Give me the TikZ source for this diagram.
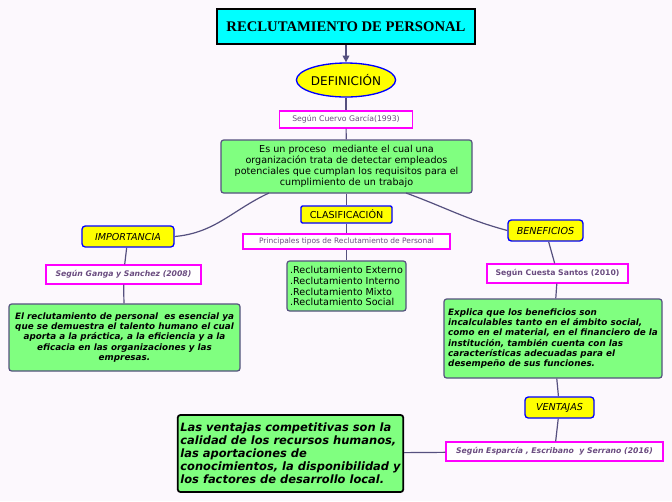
\documentclass[tikz,border=0pt]{standalone}
\usepackage{fontspec}
\setmainfont{DejaVu Sans}
\newfontfamily\titlefont{Liberation Serif}
\usetikzlibrary{shapes.geometric,arrows.meta}
\definecolor{bg}{HTML}{FCF8FD}
\definecolor{ln}{HTML}{55507F}
\definecolor{gr}{HTML}{80FF80}
\definecolor{yl}{HTML}{FFFF00}
\definecolor{mg}{HTML}{FF00FF}
\definecolor{cy}{HTML}{00FFFF}
\definecolor{pt}{HTML}{6A4C80}
\tikzset{
 greenbox/.style={draw=ln,fill=gr,rounded corners=2pt,line width=0.9pt,align=center,inner sep=2pt,font=\fontsize{7.2}{8.2}\selectfont},
 yellowbox/.style={draw=blue,fill=yl,rounded corners=2.5pt,line width=1pt,inner sep=0pt,font=\fontsize{7.2}{8.2}\selectfont},
 refbox/.style={draw=mg,fill=white,line width=1pt,inner sep=0pt,text=pt,font=\fontsize{5.8}{7}\selectfont},
 conn/.style={draw=ln,line width=0.9pt},
}
\begin{document}
\begin{tikzpicture}[x=0.75pt,y=-0.75pt]
\fill[bg] (0,0) rectangle (672,501);
\useasboundingbox (0,0) rectangle (672,501);
\node[draw=black,fill=cy,line width=1.6pt,minimum width=258*0.75pt,minimum height=35*0.75pt,font=\titlefont\bfseries\fontsize{11}{12}\selectfont] (title) at (346,26.5) {RECLUTAMIENTO DE PERSONAL};
\node[ellipse,draw=blue,fill=yl,line width=1pt,minimum width=98*0.75pt,minimum height=34*0.75pt,inner sep=0pt,font=\fontsize{9}{10}\selectfont] (def) at (346,80) {DEFINICIÓN};
\node[refbox,minimum width=133*0.75pt,minimum height=17*0.75pt] (cuervo) at (346,119.5) {Según Cuervo García(1993)};
\node[greenbox,minimum width=251*0.75pt,minimum height=53*0.75pt] (defbox) at (346.5,166.5) {Es un proceso\ \ mediante el cual una\\organización trata de detectar empleados\\potenciales que cumplan los requisitos para el\\cumplimiento de un trabajo};
\node[yellowbox,rounded corners=1pt,minimum width=91*0.75pt,minimum height=17*0.75pt] (clas) at (346.5,214.5) {CLASIFICACIÓN};
\node[refbox,minimum width=207*0.75pt,minimum height=15*0.75pt,font=\fontsize{5.6}{7}\selectfont] (tipos) at (346.5,241.5) {Principales tipos de Reclutamiento de Personal};
\node[greenbox,align=left,minimum width=119*0.75pt,minimum height=50*0.75pt] (lista) at (346.5,286) {.Reclutamiento Externo\\.Reclutamiento Interno\\.Reclutamiento Mixto\\.Reclutamiento Social};
\node[yellowbox,minimum width=92*0.75pt,minimum height=21*0.75pt,font=\itshape\fontsize{7.2}{8.2}\selectfont] (imp) at (128,236.5) {IMPORTANCIA};
\node[refbox,minimum width=155*0.75pt,minimum height=19*0.75pt,font=\bfseries\itshape\fontsize{5.8}{7}\selectfont] (ganga) at (123.5,274.5) {Según Ganga y Sanchez (2008)};
\node[greenbox,minimum width=231*0.75pt,minimum height=67*0.75pt,font=\bfseries\itshape\fontsize{6.6}{7.6}\selectfont] (impbox) at (124.5,337.5) {El reclutamiento de personal\ \ es esencial ya\\que se demuestra el talento humano el cual\\aporta a la práctica, a la eficiencia y a la\\eficacia en las organizaciones y las\\empresas.};
\node[yellowbox,minimum width=75*0.75pt,minimum height=21*0.75pt,font=\itshape\fontsize{7.2}{8.2}\selectfont] (ben) at (545.5,230.5) {BENEFICIOS};
\node[refbox,minimum width=141*0.75pt,minimum height=19*0.75pt,font=\bfseries\fontsize{5.8}{7}\selectfont] (cuesta) at (557.5,273.5) {Según Cuesta Santos (2010)};
\node[greenbox,align=left,minimum width=218*0.75pt,minimum height=79*0.75pt,font=\bfseries\itshape\fontsize{6.6}{7.6}\selectfont] (benbox) at (553,338.5) {Explica que los beneficios son\\incalculables tanto en el ámbito social,\\como en el material, en el financiero de la\\institución, también cuenta con las\\características adecuadas para el\\desempeño de sus funciones.};
\node[yellowbox,minimum width=69*0.75pt,minimum height=21*0.75pt,font=\itshape\fontsize{7.2}{8.2}\selectfont] (vent) at (559.5,407.5) {VENTAJAS};
\node[refbox,minimum width=217*0.75pt,minimum height=19*0.75pt,font=\bfseries\itshape\fontsize{5.8}{7}\selectfont] (espar) at (554.5,451.5) {Según Esparcía , Escribano\ \ y Serrano (2016)};
\node[greenbox,draw=black,line width=1.3pt,align=left,minimum width=219*0.75pt,minimum height=77*0.75pt,font=\bfseries\itshape\fontsize{8.6}{9.8}\selectfont] (ventbox) at (290.5,453.5) {Las ventajas competitivas son la\\calidad de los recursos humanos,\\las aportaciones de\\conocimientos, la disponibilidad y\\los factores de desarrollo local.};
\draw[conn,-{Triangle[length=5pt,width=5pt]}] (title) -- (def);
\draw[conn] (def) -- (cuervo);
\draw[conn] (cuervo) -- (defbox);
\draw[conn] (defbox) -- (clas);
\draw[conn] (clas) -- (tipos);
\draw[conn] (tipos) -- (lista);
\draw[conn] (269,193) to[out=-155,in=5] (imp.east);
\draw[conn] (406,193) to[out=-20,in=165] (ben.west);
\draw[conn] (imp) -- (ganga);
\draw[conn] (ganga) -- (impbox);
\draw[conn] (ben) -- (cuesta);
\draw[conn] (cuesta) -- (benbox);
\draw[conn] (benbox) -- (vent);
\draw[conn] (vent) -- (espar);
\draw[conn] (espar) -- (ventbox);
\end{tikzpicture}
\end{document}
